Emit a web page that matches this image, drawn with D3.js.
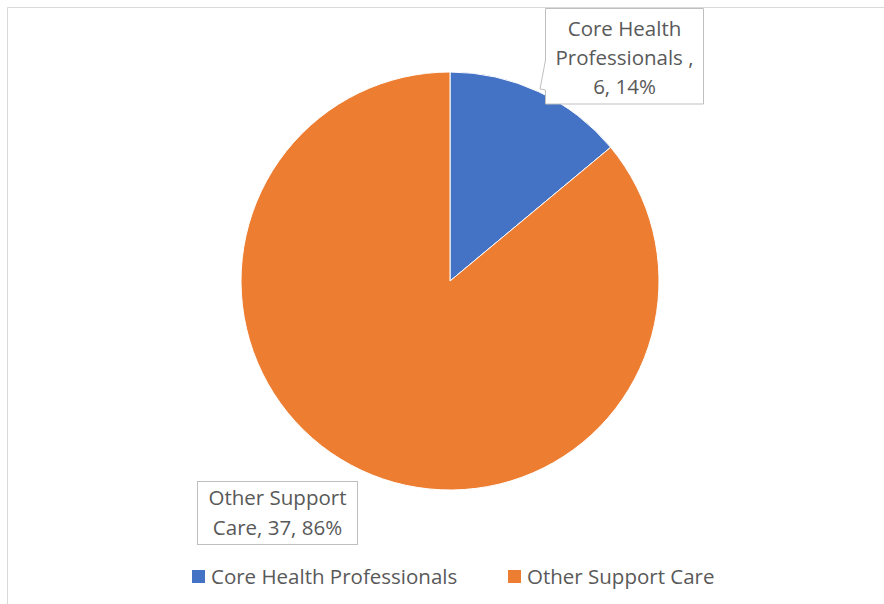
<!DOCTYPE html>
<html>
<head>
<meta charset="utf-8">
<script src="https://cdn.jsdelivr.net/npm/d3@7"></script>
<style>
html,body{margin:0;padding:0;background:#fff;}
svg{display:block;font-family:"Open Sans",Lato,sans-serif;}
</style>
</head>
<body>
<svg id="chart" width="884" height="604"></svg>
<script>
const categories = ["Core Health Professionals", "Other Support Care"];
const values = [6, 37];
const labelLines = [["Core Health", "Professionals ,", "6, 14%"], ["Other Support", "Care, 37, 86%"]];
const colors = ["#4472C4", "#ED7D31"];

const svg = d3.select("#chart");
const W = 884, H = 604;
svg.append("rect").attr("x", 0).attr("y", 0).attr("width", W).attr("height", H).attr("fill", "#fff");
// chart frame (top and left visible)
svg.append("path").attr("d", `M7.5,${H+5} L7.5,7.5 L${W+5},7.5`).attr("fill", "none").attr("stroke", "#d9d9d9").attr("stroke-width", 1);

const cx = 450, cy = 281, r = 209;
const pie = d3.pie().sort(null).value(d => d)(values);
const arc = d3.arc().innerRadius(0).outerRadius(r);
const g = svg.append("g").attr("transform", `translate(${cx},${cy})`);
g.selectAll("path").data(pie).join("path")
  .attr("d", arc).attr("fill", (d, i) => colors[i])
  .attr("stroke", "#fff").attr("stroke-width", 1);

const textColor = "#595959";
const fs = 20.5;

// Callout 1 (top right) with pointer
const b1 = {x: 545.5, y: 8.5, w: 158, h: 95.5};
svg.append("path")
  .attr("d", `M${b1.x},${b1.y} L${b1.x+b1.w},${b1.y} L${b1.x+b1.w},${b1.y+b1.h} L${b1.x},${b1.y+b1.h} L${b1.x},90 L540,89 L${b1.x},60 Z`)
  .attr("fill", "#fff").attr("stroke", "#bfbfbf").attr("stroke-width", 1);
const t1 = svg.append("text").attr("fill", textColor).attr("font-size", fs).attr("text-anchor", "middle");
labelLines[0].forEach((l, i) => t1.append("tspan").attr("x", b1.x + b1.w/2).attr("y", 36 + i*29).text(l));

// Callout 2 (bottom left)
const b2 = {x: 197.5, y: 481.5, w: 160, h: 63};
svg.append("rect").attr("x", b2.x).attr("y", b2.y).attr("width", b2.w).attr("height", b2.h)
  .attr("fill", "#fff").attr("stroke", "#bfbfbf").attr("stroke-width", 1);
const t2 = svg.append("text").attr("fill", textColor).attr("font-size", fs).attr("text-anchor", "middle");
labelLines[1].forEach((l, i) => t2.append("tspan").attr("x", b2.x + b2.w/2).attr("y", 505 + i*30).text(l));

// Legend
const legendX = [192, 508];
const leg = svg.append("g");
categories.forEach((c, i) => {
  leg.append("rect").attr("x", legendX[i]).attr("y", 570).attr("width", 13).attr("height", 13).attr("fill", colors[i]);
  leg.append("text").attr("x", legendX[i] + 19).attr("y", 584).attr("fill", textColor).attr("font-size", fs).text(c);
});
</script>
</body>
</html>
